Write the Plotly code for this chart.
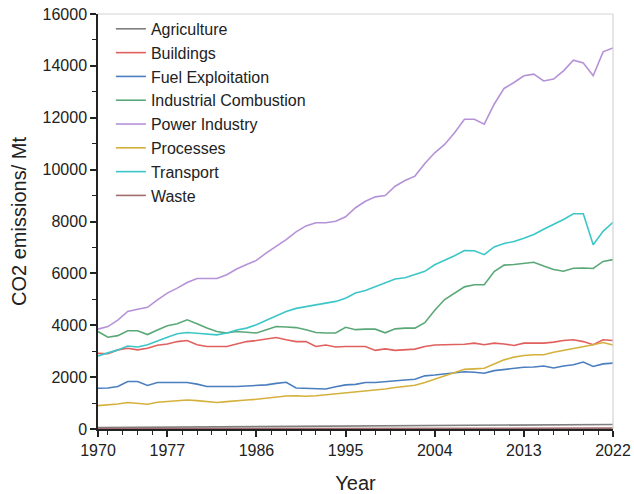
import plotly.graph_objects as go

years = list(range(1970, 2023))

agriculture = [55, 57, 60, 62, 64, 65, 68, 70, 72, 75, 77, 78, 79, 81, 84, 86, 88, 91, 94, 96,
               98, 99, 100, 101, 103, 106, 109, 112, 114, 115, 118, 120, 123, 126, 130, 134, 137, 140, 143, 145,
               148, 151, 154, 157, 159, 161, 163, 165, 168, 170, 172, 175, 176]
buildings = [2920, 2900, 3050, 3110, 3050, 3110, 3230, 3280, 3370, 3410, 3250, 3180, 3180, 3180, 3280, 3370, 3410, 3460, 3530, 3440,
             3370, 3370, 3180, 3240, 3160, 3180, 3180, 3180, 3030, 3090, 3030, 3050, 3080, 3180, 3240, 3250, 3250, 3270, 3310, 3250,
             3310, 3280, 3220, 3310, 3310, 3310, 3350, 3410, 3440, 3370, 3250, 3440, 3410]
fuel = [1570, 1580, 1640, 1830, 1830, 1680, 1790, 1800, 1790, 1790, 1730, 1640, 1640, 1630, 1640, 1660, 1680, 1700, 1760, 1800,
        1580, 1560, 1540, 1540, 1630, 1700, 1720, 1790, 1790, 1830, 1870, 1890, 1920, 2050, 2080, 2120, 2170, 2210, 2190, 2150,
        2250, 2300, 2340, 2380, 2390, 2430, 2350, 2430, 2480, 2580, 2410, 2510, 2540]
industrial = [3760, 3540, 3600, 3790, 3790, 3640, 3820, 3980, 4060, 4210, 4060, 3890, 3760, 3700, 3760, 3720, 3700, 3830, 3950, 3930,
              3910, 3830, 3720, 3700, 3700, 3920, 3830, 3850, 3850, 3710, 3860, 3890, 3890, 4100, 4580, 4990, 5240, 5480, 5560, 5560,
              6070, 6320, 6340, 6380, 6430, 6280, 6150, 6080, 6200, 6210, 6190, 6460, 6530]
power = [3850, 3950, 4200, 4530, 4620, 4690, 4980, 5240, 5430, 5650, 5800, 5800, 5800, 5950, 6170, 6340, 6500, 6790, 7040, 7300,
         7600, 7830, 7950, 7950, 8010, 8180, 8530, 8780, 8950, 9000, 9360, 9580, 9750, 10240, 10650, 10970, 11420, 11940, 11940, 11750,
         12520, 13130, 13360, 13620, 13680, 13420, 13490, 13810, 14220, 14110, 13620, 14540, 14690]
processes = [900, 930, 965, 1020, 1000, 955, 1030, 1055, 1090, 1120, 1095, 1055, 1020, 1055, 1095, 1120, 1145, 1185, 1250, 1275,
             1280, 1260, 1280, 1315, 1355, 1405, 1445, 1480, 1510, 1545, 1600, 1635, 1690, 1790, 1920, 2050, 2175, 2300, 2320, 2345,
             2510, 2665, 2770, 2835, 2860, 2860, 2960, 3025, 3100, 3180, 3245, 3335, 3235]
transport = [2820, 2920, 3050, 3200, 3160, 3250, 3410, 3540, 3670, 3720, 3690, 3670, 3630, 3700, 3820, 3890, 4020, 4190, 4360, 4530,
             4650, 4720, 4800, 4850, 4920, 5040, 5240, 5340, 5490, 5620, 5780, 5830, 5950, 6080, 6330, 6500, 6680, 6880, 6870, 6720,
             7020, 7150, 7230, 7350, 7500, 7700, 7880, 8080, 8300, 8300, 7100, 7620, 7970]
waste = [15, 15, 16, 16, 17, 17, 18, 18, 18, 19, 19, 19, 20, 20, 20, 21, 21, 21, 22, 22,
         22, 23, 23, 23, 24, 24, 24, 25, 25, 25, 26, 26, 26, 27, 27, 27, 28, 28, 28, 29,
         29, 29, 30, 30, 30, 31, 31, 31, 32, 32, 32, 33, 33]

series_names = ["Agriculture", "Buildings", "Fuel Exploitation", "Industrial Combustion",
                "Power Industry", "Processes", "Transport", "Waste"]
series_values = [agriculture, buildings, fuel, industrial, power, processes, transport, waste]
colors = ["#7f7f7f", "#e0605e", "#4a7ebf", "#5aa877", "#b592d8", "#d4b13c", "#3dc6c8", "#a06c6e"]

x_tickvals = [1970, 1977, 1986, 1995, 2004, 2013, 2022]
x_minor = [1971, 1972.5, 1974, 1975.5, 1978.5, 1980, 1981.5, 1983, 1984.5,
           1987.5, 1989, 1990.5, 1992, 1993.5, 1996.5, 1998, 1999.5, 2001, 2002.5,
           2005.5, 2007, 2008.5, 2010, 2011.5, 2014.5, 2016, 2017.5, 2019, 2020.5]
y_tickvals = [0, 2000, 4000, 6000, 8000, 10000, 12000, 14000, 16000]
y_minor = [1000, 3000, 5000, 7000, 9000, 11000, 13000, 15000]

fig = go.Figure()
for name, vals, col in zip(series_names, series_values, colors):
    fig.add_trace(go.Scatter(x=years, y=vals, name=name, mode="lines",
                             line=dict(color=col, width=1.6)))

font_family = "Liberation Sans, Arial, sans-serif"
frame_col = "#d4d4d4"

fig.update_layout(
    width=634, height=494,
    margin=dict(l=98, r=21, t=14, b=65, autoexpand=False),
    paper_bgcolor="white", plot_bgcolor="white",
    font=dict(family=font_family, color="#222222"),
    showlegend=True,
    legend=dict(x=0.025, y=1.005, xanchor="left", yanchor="top",
                bgcolor="rgba(0,0,0,0)", borderwidth=0,
                font=dict(size=16, family=font_family, color="#222222"),
                tracegroupgap=0),
    shapes=[
        dict(type="line", xref="paper", yref="paper", x0=0, x1=1, y0=1, y1=1,
             line=dict(color=frame_col, width=1.2), layer="above"),
        dict(type="line", xref="paper", yref="paper", x0=1, x1=1, y0=0, y1=1,
             line=dict(color=frame_col, width=1.2), layer="above"),
    ],
    xaxis=dict(range=[1970, 2022], tickmode="array", tickvals=x_tickvals,
               ticktext=[str(v) for v in x_tickvals], automargin=False,
               ticklabeloverflow="allow",
               showgrid=False, zeroline=False, showline=True, linecolor="#222222", linewidth=1.5,
               ticks="outside", ticklen=6, tickwidth=1.5, tickcolor="#222222",
               minor=dict(tickvals=x_minor, ticks="outside", ticklen=4, tickwidth=1.2, tickcolor="#222222", showgrid=False),
               tickfont=dict(size=16, color="#222222"),
               title=dict(text="Year", font=dict(size=20, color="#222222"), standoff=18)),
    yaxis=dict(range=[0, 16000], tickmode="array", tickvals=y_tickvals,
               ticktext=[str(v) for v in y_tickvals], automargin=False,
               ticklabeloverflow="allow",
               showgrid=False, zeroline=False, showline=True, linecolor="#222222", linewidth=1.5,
               ticks="outside", ticklen=6, tickwidth=1.5, tickcolor="#222222",
               minor=dict(tickvals=y_minor, ticks="outside", ticklen=4, tickwidth=1.2, tickcolor="#222222", showgrid=False),
               tickfont=dict(size=16, color="#222222"),
               title=dict(text="CO2 emissions/ Mt", font=dict(size=20, color="#222222"), standoff=11)),
)

# remove the browser's default 8px body margin so the 634x494 figure fills the window
fig.write_html("out.html", config={"displayModeBar": False},
               post_script="document.body.style.margin='0px';")
